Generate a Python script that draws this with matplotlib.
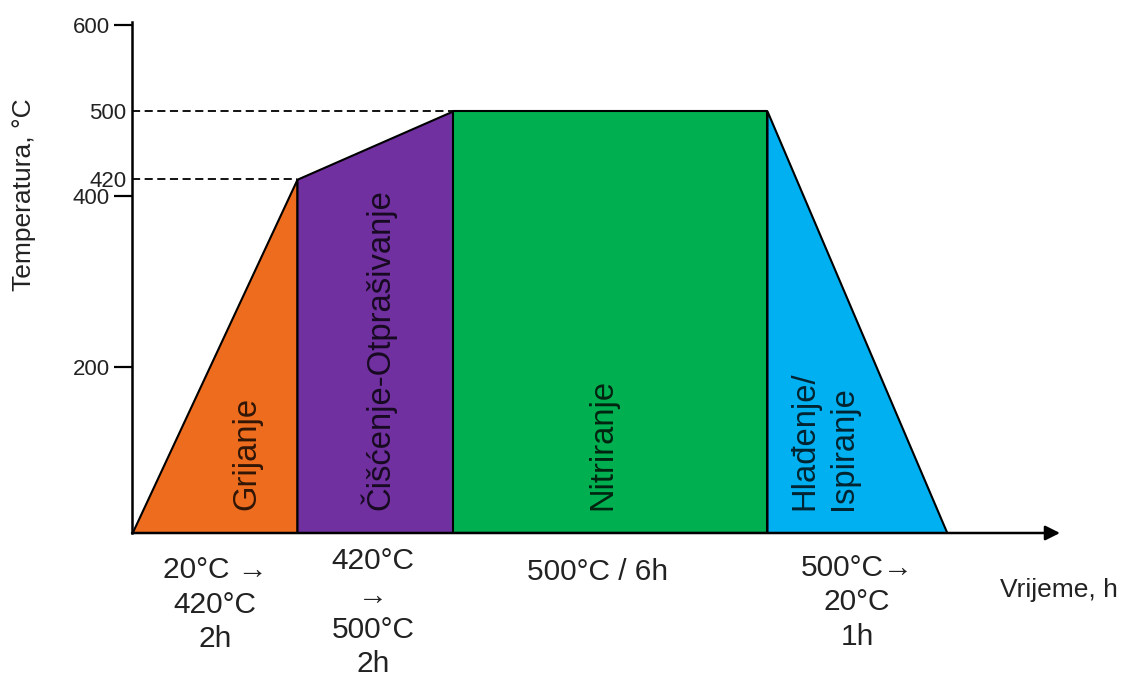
import matplotlib
matplotlib.use("Agg")
import matplotlib.pyplot as plt

plt.rcParams['font.family'] = ['Liberation Sans', 'DejaVu Sans']

# profile of the treatment (schematic time axis, temperature in deg C)
phase_names = ["Grijanje", "Čišćenje-Otprašivanje", "Nitriranje", "Hlađenje/\nIspiranje"]
phase_notes = ["20°C →\n420°C\n2h", "420°C\n→\n500°C\n2h", "500°C / 6h", "500°C→\n20°C\n1h"]
phase_colors = ["#EE6C1E", "#7030A0", "#00B050", "#00B0F0"]
time_pts = [0.0, 1.65, 3.21, 6.35, 8.15]
temp_pts = [6, 420, 500, 500, 6]
marked_temps = [420, 500]
major_temps = [200, 400, 600]

base = 6
fig = plt.figure(figsize=(11.24, 6.84), dpi=100)
ax = fig.add_axes([132/1124, 151/684, 928/1124, 511/684])
ax.set_xlim(0, 9.28)
ax.set_ylim(base, 604)

for i in range(4):
    ax.fill_between(time_pts[i:i+2], temp_pts[i:i+2], base,
                    facecolor=phase_colors[i], edgecolor="black", lw=1.5, zorder=2)

# dashed guides to the held temperatures
for t in marked_temps:
    x_end = time_pts[temp_pts.index(t)]
    ax.plot([0, x_end], [t, t], color="black", lw=1.3, dashes=(4.5, 2.5), zorder=3)

# phase names inside the areas
label_x = [1.15, 2.46, 4.71, 6.92]
for x, name in zip(label_x, phase_names):
    ax.text(x, 33, name, rotation=90, ha="center", va="bottom", ma="left",
            fontsize=23.6, color="black", alpha=0.8, linespacing=1.3, zorder=4)

# notes under the time axis
note_x = [0.83, 2.41, 4.66, 7.25]
note_y = [-21, -10, -23, -18]
for x, y, note in zip(note_x, note_y, phase_notes):
    ax.text(x, y, note, ha="center", va="top", fontsize=21.5, color="#222222",
            linespacing=1.3, clip_on=False)

# axes
for s in ["top", "right", "bottom"]:
    ax.spines[s].set_visible(False)
ax.spines["left"].set_linewidth(1.8)
ax.set_xticks([])
ax.set_yticks(major_temps)
ax.set_yticks(marked_temps, minor=True)
ax.set_yticklabels([str(t) for t in major_temps])
ax.set_yticklabels([str(t) for t in marked_temps], minor=True)
ax.tick_params(axis="y", which="major", direction="out", length=13, width=1.6,
               pad=3, labelsize=16, labelcolor="#222222")
ax.tick_params(axis="y", which="minor", length=0, pad=4, labelsize=16,
               labelcolor="#222222")

ax.annotate("", xy=(1, 0), xytext=(0, 0), xycoords="axes fraction",
            arrowprops=dict(arrowstyle="-|>", color="black", lw=1.8,
                            mutation_scale=22, shrinkA=0, shrinkB=0))

fig.text(1059/1124, 1 - 590/684, "Vrijeme, h", ha="center", va="center",
         fontsize=19, color="#222222")
fig.text(24/1124, 1 - 195/684, "Temperatura, °C", ha="center", va="center",
         rotation=90, fontsize=19, color="#222222")

fig.savefig("out.png", dpi=100)
